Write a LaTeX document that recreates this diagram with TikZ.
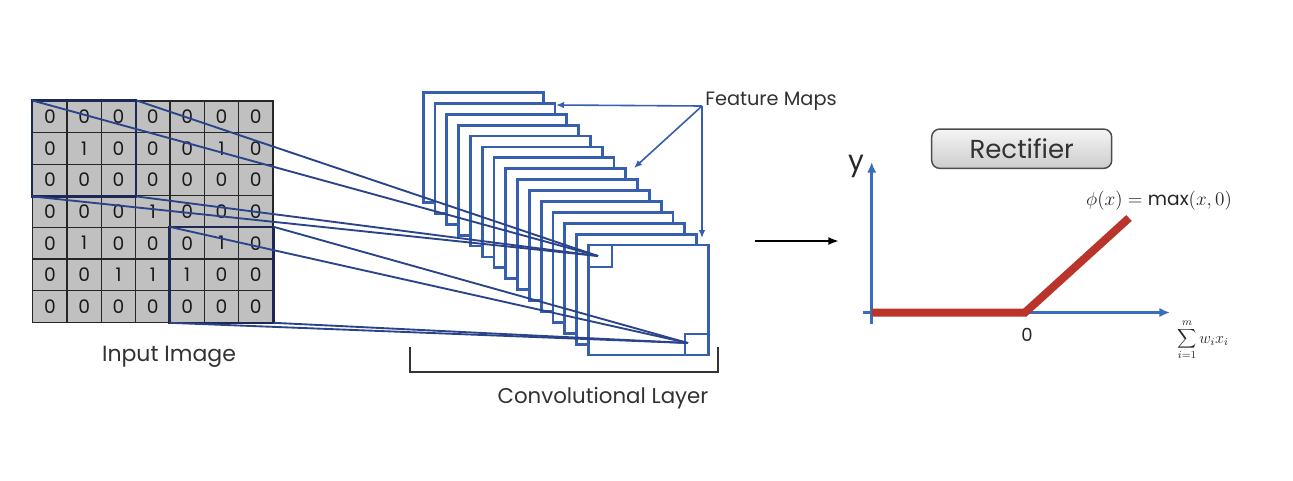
\documentclass[tikz,border=0pt]{standalone}
\usepackage{fontspec}
\setmainfont{Poppins}
\usetikzlibrary{arrows.meta}
\definecolor{mapblue}{RGB}{55,95,175}
\definecolor{lineblue}{RGB}{42,68,140}
\definecolor{winblue}{RGB}{30,40,85}
\definecolor{axisblue}{RGB}{55,110,190}
\definecolor{cellgray}{RGB}{192,192,192}
\definecolor{relured}{RGB}{185,52,42}
\definecolor{txtgray}{RGB}{50,50,50}
\tikzset{
  cell/.style={draw=black!85, fill=cellgray, line width=0.9pt, minimum width=25.75pt, minimum height=23.7pt, inner sep=0pt, font=\fontsize{14}{14}\selectfont, text=black!90},
  window/.style={draw=winblue, line width=1.7pt},
  fmap/.style={draw=mapblue, fill=white, line width=2.1pt, minimum width=90pt, minimum height=82.5pt, anchor=north west, inner sep=0pt},
  patch/.style={draw=mapblue, line width=1.6pt, inner sep=0pt},
  conn/.style={draw=lineblue, line width=1.4pt},
  fmarrow/.style={draw=mapblue, line width=1.2pt, -{Latex[length=6pt,width=5pt]}},
  label/.style={text=txtgray, font=\fontsize{14.5}{14.5}\selectfont, inner sep=0pt},
  axis/.style={draw=axisblue, line width=2pt, -{Latex[length=8pt,width=7pt]}},
  relu/.style={draw=relured, line width=6pt},
  bracket/.style={draw=black!80, line width=1.5pt},
  rectbox/.style={draw=black!70, line width=1.1pt, rounded corners=6pt, top color=gray!8, bottom color=gray!40, minimum width=135pt, minimum height=29.5pt, inner sep=0pt, font=\fontsize{19.5}{19.5}\selectfont, text=txtgray}
}
\begin{document}
\begin{tikzpicture}[x=0.75pt, y=-0.75pt]
\useasboundingbox (0,0) rectangle (1293,480);
\fill[white] (0,0) rectangle (1293,480);

% input grid
\foreach \row [count=\r from 0] in {{0,0,0,0,0,0,0},{0,1,0,0,0,1,0},{0,0,0,0,0,0,0},{0,0,0,1,0,0,0},{0,1,0,0,0,1,0},{0,0,1,1,1,0,0},{0,0,0,0,0,0,0}} {
  \foreach \d [count=\c from 0] in \row {
    \node[cell] (c\r\c) at ({32.7+34.33*(\c+0.5)},{101+31.6*(\r+0.5)}) {\d};
  }
}
\draw[window] (c00.north west) rectangle (c22.south east);
\draw[window] (c44.north west) rectangle (c66.south east);
\node[label, font=\fontsize{16.5}{16.5}\selectfont] (inlbl) at (169,357) {Input Image};

% feature maps
\foreach \i in {0,...,14} {
  \node[fmap] (m\i) at ({421.7+11.8*\i},{91+10.9*\i}) {};
}
\node[patch, anchor=north west, minimum width=18pt, minimum height=17pt] (s1) at (m14.north west) {};
\node[patch, anchor=south east, minimum width=18pt, minimum height=16pt] (s2) at (m14.south east) {};

% connections
\coordinate (p1) at (598,256);
\coordinate (p2) at (688,343);
\foreach \a in {c00.north west, c02.north east, c20.south west, c22.south east} {
  \draw[conn] (\a) -- (p1);
}
\foreach \a in {c44.north west, c46.north east, c64.south west, c66.south east} {
  \draw[conn] (\a) -- (p2);
}

% feature maps label
\node[label, anchor=west] (fml) at (705,101) {Feature Maps};
\coordinate (fmo) at (702,106);
\coordinate (fmt1) at (556,105);
\coordinate (fmt2) at (634,168);
\coordinate (fmt3) at (702,238);
\draw[fmarrow] (fmo) -- (fmt1);
\draw[fmarrow] (fmo) -- (fmt2);
\draw[fmarrow] (fmo) -- (fmt3);

% bracket
\coordinate (bl) at (410,347);
\coordinate (br) at (718,347);
\draw[bracket] (bl) -- ++(0,25) -| (br);
\node[label, font=\fontsize{16}{16}\selectfont] (convlbl) at (603,398) {Convolutional Layer};

% black arrow
\coordinate (ba1) at (755,241);
\coordinate (ba2) at (839,241);
\draw[line width=1.5pt, -{Latex[length=8pt,width=6pt]}] (ba1) -- (ba2);

% rectifier
\node[rectbox] (rect) at (1021.7,148.7) {Rectifier};
\coordinate (o) at (871.7,312.5);
\coordinate (ybot) at (871.7,324);
\coordinate (ytop) at (871.7,162);
\coordinate (xl) at (863,312.5);
\coordinate (xr) at (1170,312.5);
\coordinate (z) at (1025,312.5);
\coordinate (rt) at (1129,218);
\draw[axis] (ybot) -- (ytop);
\draw[axis] (xl) -- (xr);
\draw[relu] (o) -- (z) -- (rt);
\node[text=black!85, font=\fontsize{21}{21}\selectfont, inner sep=0pt] (ylbl) at (856,166) {y};
\node[text=black!85, font=\fontsize{13.5}{13.5}\selectfont, inner sep=0pt] (zero) at (1027,335) {0};
\node[text=black!85, font=\fontsize{14}{14}\selectfont, inner sep=0pt] (phi) at (1159,201) {$\phi(x)=\max(x,0)$};
\node[text=black!85, font=\fontsize{11.5}{11.5}\selectfont, inner sep=0pt] (sum) at (1203,340) {$\displaystyle\sum_{i=1}^{m} w_i x_i$};
\end{tikzpicture}
\end{document}
